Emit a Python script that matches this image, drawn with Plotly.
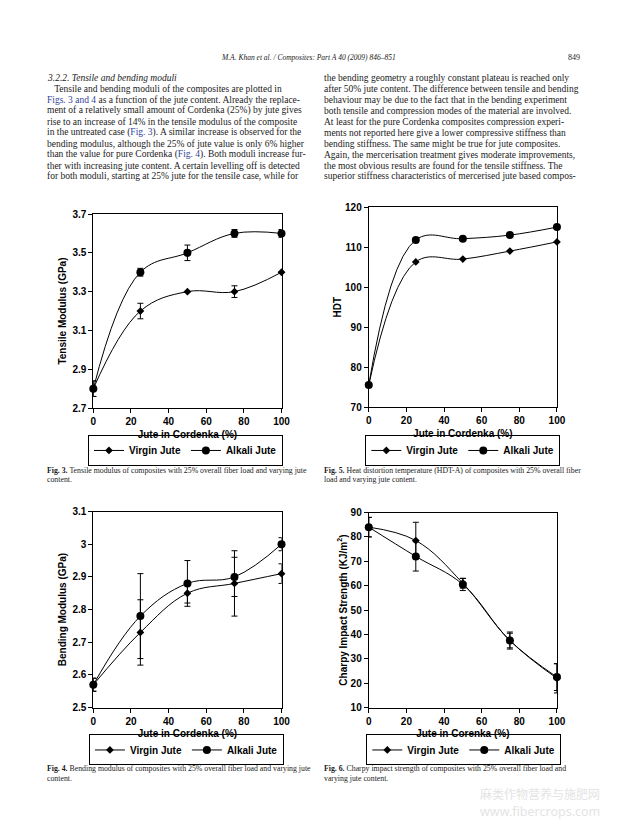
import plotly.graph_objects as go

# The page body has an 8px default margin, so the figure is sized to fit the
# window and every page position is shifted by that offset.
PAGE_W, PAGE_H = 620, 828
OFF = 8
W, H = PAGE_W - 2 * OFF, PAGE_H - 2 * OFF

# ---------------- data ----------------
jute = [0, 25, 50, 75, 100]

tensile_virgin = [2.8, 3.2, 3.3, 3.3, 3.4]
tensile_virgin_err = [0.04, 0.04, 0.0, 0.03, 0.0]
tensile_alkali = [2.8, 3.4, 3.5, 3.6, 3.6]
tensile_alkali_err = [0.04, 0.02, 0.04, 0.02, 0.02]

hdt_virgin = [75.5, 106.3, 107.0, 109.0, 111.3]
hdt_alkali = [75.5, 111.8, 112.1, 113.0, 115.0]

bending_virgin = [2.57, 2.73, 2.85, 2.88, 2.91]
bending_virgin_err = [0.02, 0.10, 0.03, 0.10, 0.03]
bending_alkali = [2.57, 2.78, 2.88, 2.90, 3.00]
bending_alkali_err = [0.02, 0.13, 0.07, 0.06, 0.02]

charpy_virgin = [84, 78.5, 61, 37.5, 22]
charpy_virgin_err = [4, 7.5, 2, 3, 6]
charpy_alkali = [84, 72, 60.5, 37.5, 22.5]
charpy_alkali_err = [4, 6, 2.5, 3.5, 5.5]

x_ticks = [0, 20, 40, 60, 80, 100]
tensile_ticks = [2.7, 2.9, 3.1, 3.3, 3.5, 3.7]
tensile_ticktext = ["2.7", "2.9", "3.1", "3.3", "3.5", "3.7"]
hdt_ticks = [70, 80, 90, 100, 110, 120]
bending_ticks = [2.5, 2.6, 2.7, 2.8, 2.9, 3.0, 3.1]
bending_ticktext = ["2.5", "2.6", "2.7", "2.8", "2.9", "3", "3.1"]
charpy_ticks = [10, 20, 30, 40, 50, 60, 70, 80, 90]

series_names = ["Virgin Jute", "Alkali Jute"]

header_text = "M.A. Khan et al. / Composites: Part A 40 (2009) 846–851"
page_number = "849"

LINK = "#33449a"
left_lines = [
    "<i>3.2.2. Tensile and bending moduli</i>",
    "&nbsp;&nbsp;&nbsp;Tensile and bending moduli of the composites are plotted in",
    f"<span style='color:{LINK}'>Figs. 3 and 4</span> as a function of the jute content. Already the replace-",
    "ment of a relatively small amount of Cordenka (25%) by jute gives",
    "rise to an increase of 14% in the tensile modulus of the composite",
    f"in the untreated case (<span style='color:{LINK}'>Fig. 3</span>). A similar increase is observed for the",
    "bending modulus, although the 25% of jute value is only 6% higher",
    f"than the value for pure Cordenka (<span style='color:{LINK}'>Fig. 4</span>). Both moduli increase fur-",
    "ther with increasing jute content. A certain levelling off is detected",
    "for both moduli, starting at 25% jute for the tensile case, while for",
]
right_lines = [
    "the bending geometry a roughly constant plateau is reached only",
    "after 50% jute content. The difference between tensile and bending",
    "behaviour may be due to the fact that in the bending experiment",
    "both tensile and compression modes of the material are involved.",
    "At least for the pure Cordenka composites compression experi-",
    "ments not reported here give a lower compressive stiffness than",
    "bending stiffness. The same might be true for jute composites.",
    "Again, the mercerisation treatment gives moderate improvements,",
    "the most obvious results are found for the tensile stiffness. The",
    "superior stiffness characteristics of mercerised jute based compos-",
]

captions = {
    "fig3": ["<b>Fig. 3.</b> Tensile modulus of composites with 25% overall fiber load and varying jute", "content."],
    "fig5": ["<b>Fig. 5.</b> Heat distortion temperature (HDT-A) of composites with 25% overall fiber", "load and varying jute content."],
    "fig4": ["<b>Fig. 4.</b> Bending modulus of composites with 25% overall fiber load and varying jute", "content."],
    "fig6": ["<b>Fig. 6.</b> Charpy impact strength of composites with 25% overall fiber load and", "varying jute content."],
}


def px(x):
    return (x - OFF) / W


def py(y):
    return 1 - (y - OFF) / H


fig = go.Figure()

SANS = "Arial, Liberation Sans, sans-serif"
SERIF = "Liberation Serif, Times New Roman, serif"


def add_pair(xa, ya, virgin, alkali, verr, aerr, legend):
    for name, vals, err, sym, size in [
        (series_names[0], virgin, verr, "diamond", 6),
        (series_names[1], alkali, aerr, "circle", 8),
    ]:
        kw = {}
        if err is not None:
            kw["error_y"] = dict(type="data", array=err, visible=True,
                                 color="black", thickness=1, width=3)
        fig.add_trace(go.Scatter(
            x=jute, y=vals, name=name, mode="lines+markers",
            line=dict(color="black", width=1, shape="spline", smoothing=1.1),
            marker=dict(symbol=sym, size=size, color="black"),
            xaxis=xa, yaxis=ya, legend=legend, cliponaxis=False, **kw))


add_pair("x", "y", tensile_virgin, tensile_alkali, tensile_virgin_err, tensile_alkali_err, "legend")
add_pair("x2", "y2", hdt_virgin, hdt_alkali, None, None, "legend2")
add_pair("x3", "y3", bending_virgin, bending_alkali, bending_virgin_err, bending_alkali_err, "legend3")
add_pair("x4", "y4", charpy_virgin, charpy_alkali, charpy_virgin_err, charpy_alkali_err, "legend4")

tickfont = dict(family=SANS, size=10, color="black", weight="bold")
titlefont = dict(family=SANS, size=10, color="black", weight="bold")


def xaxis(domain, anchor, title):
    return dict(domain=domain, anchor=anchor, range=[0, 100], tickvals=x_ticks,
                showline=True, linecolor="black", linewidth=1, mirror=True,
                ticks="outside", ticklen=4, tickcolor="black", showgrid=False,
                zeroline=False, tickfont=tickfont,
                title=dict(text=title, font=titlefont, standoff=4))


def yaxis(domain, anchor, rng, tv, tt, title, standoff=3):
    return dict(domain=domain, anchor=anchor, range=rng, tickvals=tv, ticktext=tt,
                showline=True, linecolor="black", linewidth=1, mirror=True,
                ticks="outside", ticklen=4, tickcolor="black", showgrid=False,
                zeroline=False, tickfont=tickfont,
                title=dict(text=title, font=titlefont, standoff=standoff))


L_dom = [px(92), px(284)]
R_dom = [px(373), px(565)]

fig.update_layout(
    xaxis=xaxis(L_dom, "y", "Jute in Cordenka (%)"),
    yaxis=yaxis([py(408), py(211)], "x", [2.7, 3.7], tensile_ticks, tensile_ticktext, "Tensile Modulus (GPa)"),
    xaxis2=xaxis(R_dom, "y2", "Jute in Cordenka (%)"),
    yaxis2=yaxis([py(407), py(204)], "x2", [70, 120], hdt_ticks, [str(v) for v in hdt_ticks], "HDT", 1),
    xaxis3=xaxis(L_dom, "y3", "Jute in Cordenka (%)"),
    yaxis3=yaxis([py(712), py(513)], "x3", [2.5, 3.1], bending_ticks, bending_ticktext, "Bending Modulus (GPa)"),
    xaxis4=xaxis(R_dom, "y4", "Jute in Corenka (%)"),
    yaxis4=yaxis([py(712), py(514)], "x4", [10, 90], charpy_ticks, [str(v) for v in charpy_ticks],
                 "Charpy Impact Strength (KJ/m<sup>2</sup>)", 1),
)


def legend_cfg(cx, cy):
    return dict(x=px(cx), y=py(cy), xanchor="center", yanchor="middle",
                orientation="h", bordercolor="black", borderwidth=1,
                bgcolor="white", itemwidth=30,
                font=dict(family=SANS, size=10, color="black", weight="bold"))


fig.update_layout(
    legend=legend_cfg(186, 451),
    legend2=legend_cfg(469, 451),
    legend3=legend_cfg(187, 755),
    legend4=legend_cfg(470, 755),
)

ann = []


def add_text(x, y, text, size, family=SERIF, color="#1a1a1a", xanchor="left"):
    ann.append(dict(x=px(x), y=py(y), xref="paper", yref="paper", text=text,
                    showarrow=False, xanchor=xanchor, yanchor="middle",
                    font=dict(family=family, size=size, color=color)))


add_text(312, 52, f"<i>{header_text}</i>", 7.5, color="#222", xanchor="center")
add_text(582, 52, page_number, 8, color="#222", xanchor="center")

LINE_Y0, LINE_DY = 73, 11.1
for i, t in enumerate(left_lines):
    add_text(43, LINE_Y0 + i * LINE_DY, t, 9.5)
for i, t in enumerate(right_lines):
    add_text(325, LINE_Y0 + i * LINE_DY, t, 9.5)

cap_pos = {"fig3": (43, 471), "fig5": (325, 471), "fig4": (43, 774), "fig6": (325, 774)}
for k, lines in captions.items():
    x0, y0 = cap_pos[k]
    for j, t in enumerate(lines):
        add_text(x0, y0 + j * 9.5, t, 7.8)

# faint watermark
add_text(611, 799, "麻类作物营养与施肥网", 12, family="Noto Sans CJK SC", color="#e4e4e4", xanchor="right")
add_text(611, 817, "www.fibercrops.com", 12.5, family="Noto Sans", color="#e4e4e4", xanchor="right")

fig.update_layout(
    annotations=ann,
    width=W, height=H,
    margin=dict(l=0, r=0, t=0, b=0),
    paper_bgcolor="white", plot_bgcolor="white",
)

fig.write_html("out.html")
